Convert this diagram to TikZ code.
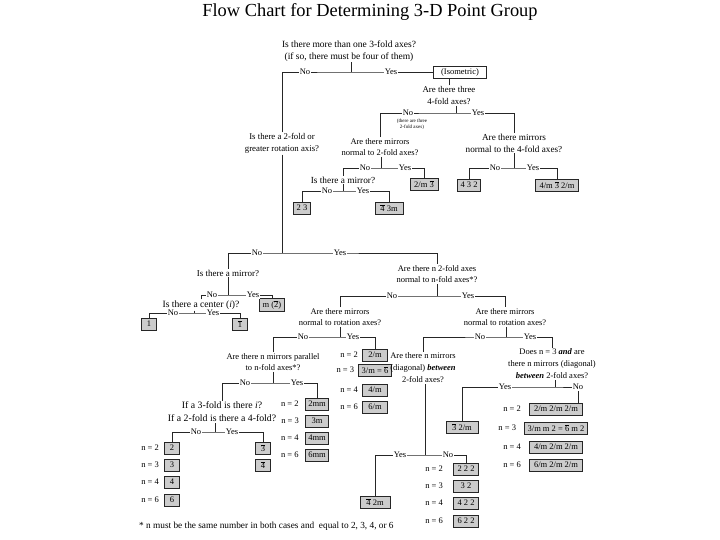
\documentclass[tikz,border=0pt]{standalone}
\usepackage{fontspec}
\setmainfont{Liberation Serif}
\usetikzlibrary{positioning}
\newcommand{\inv}[1]{\ensuremath{\overline{\mbox{#1}}}}

\begin{document}
\begin{tikzpicture}[x=1pt, y=-1pt,
    query/.style={align=center, inner sep=1pt, font=\fontsize{8.5}{11.5}\selectfont},
    ans/.style={fill=white, inner sep=1pt, font=\fontsize{8.5}{10}\selectfont},
    group/.style={rectangle, draw=black!85, fill=black!20, line width=0.8pt, inner xsep=3pt,
                  inner ysep=1.5pt, minimum height=12pt, minimum width=15pt, font=\fontsize{8.5}{10}\selectfont},
    nlab/.style={inner sep=0pt, font=\fontsize{8.5}{10}\selectfont},
    link/.style={draw=black!85, line width=0.7pt}
]
    \useasboundingbox[fill=white] (0,0) rectangle (720,540);

    % Title
    \node[font=\fontsize{18.4}{21}\selectfont] (title) at (370,12.5) {Flow Chart for Determining 3-D Point Group};

    % More than one 3-fold axis
    \node[query, font=\fontsize{9.5}{11.5}\selectfont] (q3fold) at (349,51) {Is there more than one 3-fold axes?\\(if so, there must be four of them)};
    \coordinate (j3fold) at (351,72);
    \node[group, fill=white, minimum width=53pt] (iso) at (460,72) {(Isometric)};
    \node[query, font=\fontsize{8.8}{12}\selectfont] (rot) at (282,143.5) {Is there a 2-fold or\\greater rotation axis?};
    \draw[link] (q3fold.south -| j3fold) -- (j3fold);
    \draw[link] (rot.north) |- (j3fold) -- (iso.west);
    \node[ans] (no3fold) at (305,72) {No};
    \node[ans] (yes3fold) at (391,72) {Yes};

    % Isometric: three 4-fold axes
    \node[query, font=\fontsize{8.8}{11.5}\selectfont] (three4) at (449,95.5) {Are there three\\4-fold axes?};
    \coordinate (j4) at (456,113);
    \node[query] (mirr2) at (380,147) {Are there mirrors\\normal to 2-fold axes?};
    \node[query, font=\fontsize{9.2}{12}\selectfont] (mirr4) at (514,143) {Are there mirrors\\normal to the 4-fold axes?};
    \draw[link] (three4.north) -- (three4.north |- iso.south);
    \draw[link] (three4.south -| j4) -- (j4);
    \draw[link] (mirr2.north) |- (j4) -| (mirr4.north);
    \node[ans] (no4) at (408,113) {No};
    \node[ans] (yes4) at (478,113) {Yes};
    \node[query, font=\fontsize{5}{6}\selectfont] (three2) at (412,124.5) {(there are three\\2-fold axes)};

    % Mirrors normal to 2-fold axes
    \coordinate (j2ax) at (381,168);
    \node[query, font=\fontsize{9.3}{11}\selectfont] (mirrA) at (343,180) {Is there a mirror?};
    \node[group, minimum width=28pt] (gm3) at (424,184) {2/m \inv{3}};
    \draw[link] (mirr2.south -| j2ax) -- (j2ax);
    \draw[link] (mirrA.north) |- (j2ax) -| (gm3.north);
    \node[ans] (no2ax) at (365,168) {No};
    \node[ans] (yes2ax) at (405,168) {Yes};

    \coordinate (jA) at (343,191);
    \node[group] (g23) at (302,208) {2 3};
    \node[group, minimum width=28pt] (g43m) at (389,208) {\inv{4} 3m};
    \draw[link] (mirrA.south) -- (jA);
    \draw[link] (g23.north) |- (jA) -| (g43m.north);
    \node[ans] (noA) at (327,191) {No};
    \node[ans] (yesA) at (363,191) {Yes};

    % Mirrors normal to the 4-fold axes
    \coordinate (j4ax) at (514,168);
    \node[group, minimum width=23pt] (g432) at (469,185) {4 3 2};
    \node[group, minimum width=43pt] (gm3m) at (557,185) {4/m \inv{3} 2/m};
    \draw[link] (mirr4.south -| j4ax) -- (j4ax);
    \draw[link] (g432.north) |- (j4ax) -| (gm3m.north);
    \node[ans] (no4ax) at (495,168) {No};
    \node[ans] (yes4ax) at (533,168) {Yes};

    % 2-fold or greater rotation axis
    \coordinate (jrot) at (282,253);
    \node[query, font=\fontsize{9}{11}\selectfont] (mirrB) at (228,273) {Is there a mirror?};
    \node[query] (n2fold) at (437,274) {Are there n 2-fold axes\\normal to n-fold axes*?};
    \draw[link] (rot.south) -- (jrot);
    \draw[link] (mirrB.north) |- (jrot) -| (n2fold.north);
    \node[ans] (norot) at (257,253) {No};
    \node[ans] (yesrot) at (340,253) {Yes};

    \coordinate (jB) at (228,295);
    \node[query, font=\fontsize{9.6}{11}\selectfont] (centre) at (201,305) {Is there a center (\textit{i})?};
    \node[group, minimum width=25pt] (gm2) at (272,305) {m (\inv{2})};
    \draw[link] (mirrB.south) -- (jB);
    \draw[link] (centre.north) |- (jB) -| (gm2.north);
    \node[ans] (noB) at (212,295) {No};
    \node[ans] (yesB) at (253,295) {Yes};

    \coordinate (jC) at (194,313);
    \node[group] (g1) at (149,324) {1};
    \node[group] (g1bar) at (240,324) {\inv{1}};
    \draw[link] (centre.south -| jC) -- (jC);
    \draw[link] (g1.north) |- (jC) -| (g1bar.north);
    \node[ans] (noC) at (173,313) {No};
    \node[ans] (yesC) at (213,313) {Yes};

    % n 2-fold axes normal to n-fold axis
    \coordinate (jn) at (437,296);
    \node[query] (mrotL) at (340,317) {Are there mirrors\\normal to rotation axes?};
    \node[query] (mrotR) at (505,317) {Are there mirrors\\normal to rotation axes?};
    \draw[link] (n2fold.south) -- (jn);
    \draw[link] (mrotL.north) |- (jn) -| (mrotR.north);
    \node[ans] (non) at (392,296) {No};
    \node[ans] (yesn) at (468,296) {Yes};

    % Left: mirrors normal to rotation axes
    \coordinate (jL) at (340,337);
    \node[query] (parallel) at (273,362) {Are there n mirrors parallel\\to n-fold axes*?};
    \foreach \n/\g/\y in {2/{2/m}/355, 3/{3/m = \inv{6}}/370, 4/{4/m}/390, 6/{6/m}/407} {
        \node[group, minimum width=25pt] (hm\n) at (375,\y) {\g};
        \node[nlab, left=4pt of hm\n] (nhm\n) {n = \n};
    }
    \draw[link] (mrotL.south) -- (jL);
    \draw[link] (parallel.north) |- (jL) -| (hm2.north);
    \node[ans] (noL) at (303,337) {No};
    \node[ans] (yesL) at (353,337) {Yes};

    \coordinate (jP) at (273,383);
    \node[query, font=\fontsize{9.8}{13}\selectfont] (ifq) at (222,412) {If a 3-fold is there \textit{i}?\\If a 2-fold is there a 4-fold?};
    \foreach \n/\g/\y in {2/2mm/404, 3/3m/421, 4/4mm/438, 6/6mm/455} {
        \node[group, minimum width=23pt] (mm\n) at (317,\y) {\g};
        \node[nlab, left=6pt of mm\n] (nmm\n) {n = \n};
    }
    \draw[link] (parallel.south) -- (jP);
    \draw[link] (ifq.north) |- (jP) -| (mm2.north);
    \node[ans] (noP) at (245,383) {No};
    \node[ans] (yesP) at (297,383) {Yes};

    \coordinate (jI) at (215,432);
    \foreach \n/\y in {2/448, 3/465, 4/482, 6/500} {
        \node[group] (rn\n) at (172,\y) {\n};
        \node[nlab, left=5pt of rn\n] (nrn\n) {n = \n};
    }
    \node[group] (r3bar) at (263,448) {\inv{3}};
    \node[group] (r4bar) at (263,465) {\inv{4}};
    \draw[link] (ifq.south -| jI) -- (jI);
    \draw[link] (rn2.north) |- (jI) -| (r3bar.north);
    \node[ans] (noI) at (196,432) {No};
    \node[ans] (yesI) at (232,432) {Yes};

    % Right: mirrors normal to rotation axes
    \coordinate (jR) at (506,337);
    \node[query, font=\fontsize{8.5}{12}\selectfont] (diag) at (423,368)
        {Are there n mirrors\\(diagonal) \textbf{\textit{between}}\\2-fold axes?};
    \node[query, font=\fontsize{8.5}{12}\selectfont] (does3) at (552,364)
        {Does n = 3 \textbf{\textit{and}} are\\there n mirrors (diagonal)\\\textbf{\textit{between}} 2-fold axes?};
    \draw[link] (mrotR.south -| jR) -- (jR);
    \draw[link] (diag.north) |- (jR) -| (does3.north);
    \node[ans] (noR) at (480,337) {No};
    \node[ans] (yesR) at (530,337) {Yes};

    \coordinate (jD) at (555,387);
    \node[group, minimum width=32pt] (g32m) at (462,427) {\inv{3} 2/m};
    \node[ans] (noD) at (578,387) {No};
    \foreach \n/\g/\y in {2/{2/m 2/m 2/m}/409, 3/{3/m m 2 = \inv{6} m 2}/428, 4/{4/m 2/m 2/m}/447, 6/{6/m 2/m 2/m}/465} {
        \node[group, minimum width=53pt] (mmm\n) at (556,\y) {\g};
        \node[nlab, left=8pt of mmm\n] (nmmm\n) {n = \n};
    }
    \draw[link] (does3.south -| jD) -- (jD);
    \draw[link] (g32m.north) |- (jD) -- (noD.west);
    \draw[link] (noD.south) -- (noD.south |- mmm2.north);
    \node[ans] (yesD) at (505,387) {Yes};

    % Diagonal mirrors between 2-fold axes
    \coordinate (jG) at (425,455);
    \node[group, minimum width=30pt] (g42m) at (375,502) {\inv{4} 2m};
    \foreach \n/\g/\y in {2/{2 2 2}/469, 3/{3 2}/486, 4/{4 2 2}/503, 6/{6 2 2}/521} {
        \node[group, minimum width=25pt] (dd\n) at (466,\y) {\g};
        \node[nlab, left=10pt of dd\n] (ndd\n) {n = \n};
    }
    \draw[link] (diag.south -| jG) -- (jG);
    \draw[link] (g42m.north) |- (jG) -| (dd2.north);
    \node[ans] (yesG) at (400,455) {Yes};
    \node[ans] (noG) at (448,455) {No};

    % Footnote
    \node[anchor=west, inner sep=0pt, font=\fontsize{9.3}{10}\selectfont] (note) at (139,526)
        {* n must be the same number in both cases and \ equal to 2, 3, 4, or 6};
\end{tikzpicture}
\end{document}
